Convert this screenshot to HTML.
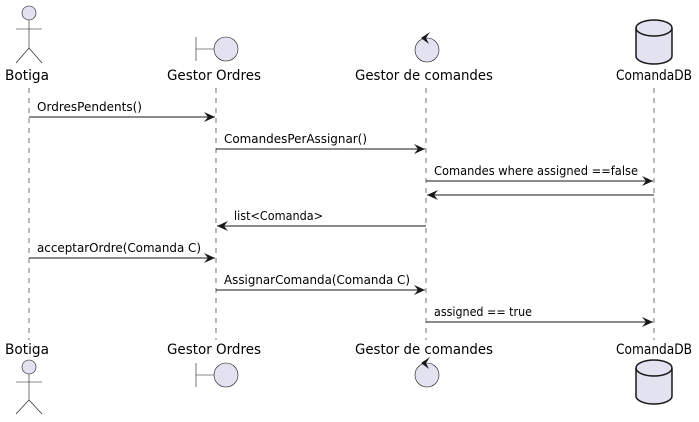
<!DOCTYPE html>
<html><head><meta charset="utf-8"><style>html,body{margin:0;padding:0;background:#fff}svg{display:block}</style></head><body>
<svg width="699" height="422" xmlns="http://www.w3.org/2000/svg" font-family="DejaVu Sans, Liberation Sans, sans-serif">
<defs><marker id="a" markerWidth="12" markerHeight="10" refX="11" refY="5" orient="auto" markerUnits="userSpaceOnUse"><path d="M0,0 L11,5 L0,10 L4,5 Z" fill="#181818"/></marker></defs>
<g stroke="#181818" stroke-width="0.6" stroke-dasharray="5,5">
<line x1="29" y1="88" x2="29" y2="340"/><line x1="216" y1="88" x2="216" y2="340"/><line x1="426" y1="88" x2="426" y2="340"/><line x1="654" y1="88" x2="654" y2="340"/>
</g>
<g fill="#E2E2F0" stroke="#181818" stroke-width="0.6">
<circle cx="29" cy="13" r="7"/><line x1="29" y1="20" x2="29" y2="48"/><line x1="16" y1="29" x2="42" y2="29"/><polyline fill="none" points="16,63 29,48 42,63"/>
<circle cx="29" cy="367" r="7"/><line x1="29" y1="374" x2="29" y2="400"/><line x1="16" y1="382" x2="42" y2="382"/><polyline fill="none" points="16,414 29,400 42,414"/>
<line x1="196" y1="37" x2="196" y2="61"/><line x1="196" y1="49" x2="214" y2="49"/><circle cx="226" cy="49" r="12"/>
<line x1="196" y1="363" x2="196" y2="387"/><line x1="196" y1="375" x2="214" y2="375"/><circle cx="226" cy="375" r="12"/>
<circle cx="427" cy="50" r="12"/><circle cx="427" cy="375" r="12"/>
</g>
<path d="M430,32 L421,38 L429,44 L426,38 Z" fill="#181818"/>
<path d="M430,357 L421,363 L429,369 L426,363 Z" fill="#181818"/>
<g fill="#E2E2F0" stroke="#181818" stroke-width="1.5">
<path d="M636,28 A18,8 0 0 1 672,28 L672,56 A18,8 0 0 1 636,56 Z"/><path d="M636,28 A18,8 0 0 0 672,28" fill="none"/>
<path d="M636,368 A18,8 0 0 1 672,368 L672,396 A18,8 0 0 1 636,396 Z"/><path d="M636,368 A18,8 0 0 0 672,368" fill="none"/>
</g>
<g font-size="14" fill="#000" text-anchor="middle" lengthAdjust="spacingAndGlyphs">
<text x="27" y="80" textLength="44" lengthAdjust="spacingAndGlyphs">Botiga</text><text x="214" y="80" textLength="94" lengthAdjust="spacingAndGlyphs">Gestor Ordres</text><text x="424" y="80" textLength="138" lengthAdjust="spacingAndGlyphs">Gestor de comandes</text><text x="654" y="80" textLength="76" lengthAdjust="spacingAndGlyphs">ComandaDB</text>
<text x="27" y="354" textLength="44" lengthAdjust="spacingAndGlyphs">Botiga</text><text x="214" y="354" textLength="94" lengthAdjust="spacingAndGlyphs">Gestor Ordres</text><text x="424" y="354" textLength="138" lengthAdjust="spacingAndGlyphs">Gestor de comandes</text><text x="654" y="354" textLength="76" lengthAdjust="spacingAndGlyphs">ComandaDB</text>
</g>
<g stroke="#181818" stroke-width="1" marker-end="url(#a)">
<line x1="29" y1="117" x2="215" y2="117"/><line x1="216" y1="149" x2="425" y2="149"/><line x1="426" y1="181" x2="653" y2="181"/><line x1="654" y1="195" x2="427" y2="195"/>
<line x1="426" y1="226" x2="217" y2="226"/><line x1="29" y1="258" x2="215" y2="258"/><line x1="216" y1="290" x2="425" y2="290"/><line x1="426" y1="322" x2="653" y2="322"/>
</g>
<g font-size="12" fill="#000">
<text x="37" y="111" textLength="105" lengthAdjust="spacingAndGlyphs">OrdresPendents()</text>
<text x="224" y="143" textLength="143" lengthAdjust="spacingAndGlyphs">ComandesPerAssignar()</text>
<text x="434" y="175" textLength="204" lengthAdjust="spacingAndGlyphs">Comandes where assigned ==false</text>
<text x="234" y="220" textLength="89" lengthAdjust="spacingAndGlyphs">list&lt;Comanda&gt;</text>
<text x="37" y="252" textLength="164" lengthAdjust="spacingAndGlyphs">acceptarOrdre(Comanda C)</text>
<text x="224" y="284" textLength="186" lengthAdjust="spacingAndGlyphs">AssignarComanda(Comanda C)</text>
<text x="434" y="316" textLength="98" lengthAdjust="spacingAndGlyphs">assigned == true</text>
</g>
</svg>
</body></html>
